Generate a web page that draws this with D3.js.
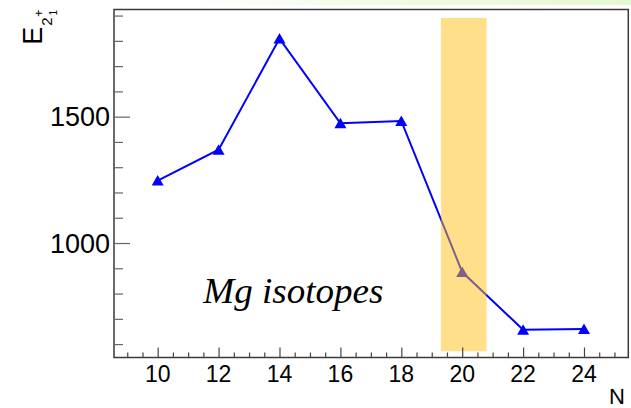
<!DOCTYPE html>
<html>
<head>
<meta charset="utf-8">
<script src="https://cdn.jsdelivr.net/npm/d3@7"></script>
<style>
  html, body { margin: 0; padding: 0; background: #fff; }
  svg { display: block; }
</style>
</head>
<body>
<svg id="chart" width="631" height="408"></svg>
<script>
// Neutron number N and first 2+ excitation energy (keV) of the Mg isotopes
const neutronNumbers = [10, 12, 14, 16, 18, 20, 22, 24];
const energies = [1247, 1369, 1809, 1474, 1483, 885, 657, 660];

// Tick values
const xMajorTicks = [10, 12, 14, 16, 18, 20, 22, 24];
const yMajorTicks = [1000, 1500];

// Highlighted N = 20 region
const bandN = [19.3, 20.8];
const bandE = [572, 1891];

const W = 631, H = 408;
const plot = { left: 114, right: 628.3, top: 9.5, bottom: 357.5 };

const svg = d3.select("#chart");

const x = d3.scaleLinear().domain([8.565, 25.455]).range([plot.left, plot.right]);
const y = d3.scaleLinear().domain([547, 1924]).range([plot.bottom, plot.top]);

// faint strip along the top edge
const defs = svg.append("defs");
const grad = defs.append("linearGradient").attr("id", "topStrip")
  .attr("x1", "0").attr("x2", "1").attr("y1", "0").attr("y2", "0");
grad.append("stop").attr("offset", "0.3").attr("stop-color", "#ffffff");
grad.append("stop").attr("offset", "0.6").attr("stop-color", "#f1fbe6");
grad.append("stop").attr("offset", "1").attr("stop-color", "#e6f8d2");
svg.append("rect").attr("x", 0).attr("y", 0).attr("width", W).attr("height", 5)
  .attr("fill", "url(#topStrip)");

// data line
const line = d3.line().x((d, i) => x(neutronNumbers[i])).y(d => y(d));
svg.append("path")
  .datum(energies)
  .attr("d", line)
  .attr("fill", "none")
  .attr("stroke", "#0000ff")
  .attr("stroke-width", 2);

// triangle markers
svg.append("g").selectAll("path")
  .data(energies)
  .join("path")
  .attr("d", (d, i) => {
    const cx = x(neutronNumbers[i]), cy = y(d);
    return `M${cx - 6},${cy + 5}L${cx + 6},${cy + 5}L${cx},${cy - 5.5}Z`;
  })
  .attr("fill", "#0000ff");

// translucent band over N = 20
svg.append("rect")
  .attr("x", x(bandN[0]))
  .attr("y", y(bandE[1]))
  .attr("width", x(bandN[1]) - x(bandN[0]))
  .attr("height", y(bandE[0]) - y(bandE[1]))
  .attr("fill", "#ffc014")
  .attr("fill-opacity", 0.5);

// frame
svg.append("rect")
  .attr("x", plot.left).attr("y", plot.top)
  .attr("width", plot.right - plot.left).attr("height", plot.bottom - plot.top)
  .attr("fill", "none").attr("stroke", "#3a3a3a").attr("stroke-width", 1.5);

// x axis ticks (drawn inward)
const xMinor = d3.range(9, 25.5, 0.5).filter(v => !xMajorTicks.includes(v));
const xAxisMajor = d3.axisTop(x).tickValues(xMajorTicks).tickSize(10).tickFormat("");
const xAxisMinor = d3.axisTop(x).tickValues(xMinor).tickSize(5).tickFormat("");
[xAxisMajor, xAxisMinor].forEach(ax => {
  const g = svg.append("g").attr("transform", `translate(0,${plot.bottom})`).call(ax);
  g.select(".domain").remove();
  g.selectAll("line").attr("stroke", "#444").attr("stroke-width", 1.2);
});

// x tick labels
svg.append("g").selectAll("text")
  .data(xMajorTicks)
  .join("text")
  .attr("x", d => x(d))
  .attr("y", 381.7)
  .attr("text-anchor", "middle")
  .attr("font-family", "Liberation Sans, Arial, sans-serif")
  .attr("font-size", 23)
  .attr("fill", "#000")
  .text(d => d);

// y axis ticks (drawn inward)
const yMinor = d3.range(600, 1901, 100).filter(v => !yMajorTicks.includes(v));
const yAxisMajor = d3.axisRight(y).tickValues(yMajorTicks).tickSize(16).tickFormat("");
const yAxisMinor = d3.axisRight(y).tickValues(yMinor).tickSize(9).tickFormat("");
[yAxisMajor, yAxisMinor].forEach(ax => {
  const g = svg.append("g").attr("transform", `translate(${plot.left},0)`).call(ax);
  g.select(".domain").remove();
  g.selectAll("line").attr("stroke", "#666").attr("stroke-width", 1.2);
});

// y tick labels
svg.append("g").selectAll("text")
  .data(yMajorTicks)
  .join("text")
  .attr("x", 110)
  .attr("y", d => y(d))
  .attr("dy", "0.36em")
  .attr("text-anchor", "end")
  .attr("font-family", "Liberation Sans, Arial, sans-serif")
  .attr("font-size", 27)
  .attr("fill", "#000")
  .text(d => d);

// x axis title
svg.append("text")
  .attr("x", 625).attr("y", 403.5)
  .attr("text-anchor", "end")
  .attr("font-family", "Liberation Sans, Arial, sans-serif")
  .attr("font-size", 22)
  .text("N");

// y axis title: E with subscript 2, superscript + and subscript 1
const yt = svg.append("g").attr("transform", "translate(41.7,43.3) rotate(-90)")
  .attr("font-family", "Liberation Sans, Arial, sans-serif");
yt.append("text").attr("x", -1.5).attr("y", 0).attr("font-size", 27).text("E");
yt.append("text").attr("x", 17.5).attr("y", 10).attr("font-size", 15).text("2");
yt.append("text").attr("x", 26.5).attr("y", 1).attr("font-size", 12).text("+");
yt.append("text").attr("x", 27.8).attr("y", 15).attr("font-size", 10).text("1");

// annotation
svg.append("text")
  .attr("x", x(11.5))
  .attr("y", y(762))
  .attr("font-family", "Liberation Serif, Times New Roman, serif")
  .attr("font-style", "italic")
  .attr("font-size", 36)
  .attr("textLength", 180)
  .attr("lengthAdjust", "spacingAndGlyphs")
  .text("Mg isotopes");
</script>
</body>
</html>
